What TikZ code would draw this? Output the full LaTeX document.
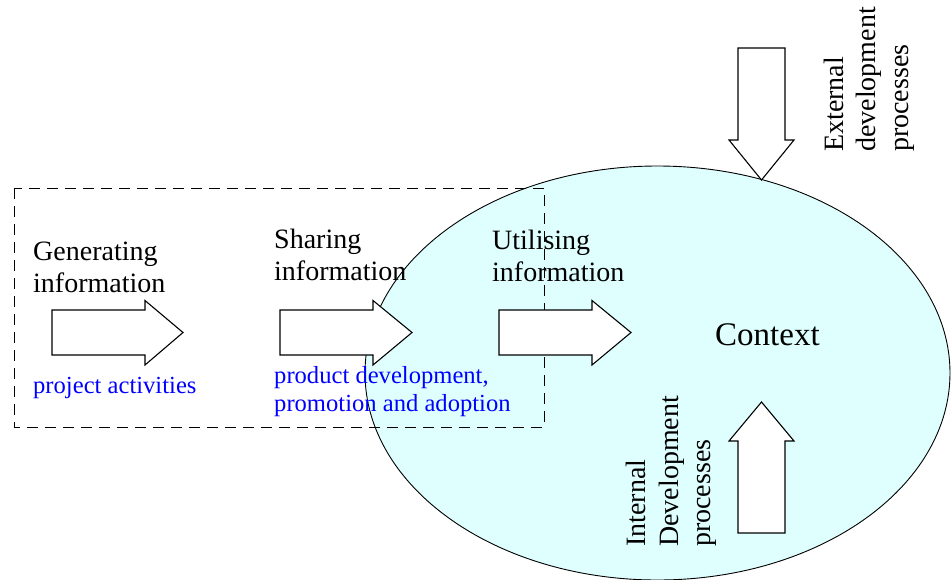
\documentclass[tikz,border=0pt]{standalone}
\usepackage{fontspec}
\setmainfont{Liberation Serif}
\definecolor{ctxfill}{RGB}{223,255,255}
\definecolor{noteblue}{RGB}{0,0,255}
\begin{document}
\begin{tikzpicture}[x=1pt,y=-1pt,
  bigarrow/.style={draw=black,fill=white,line width=1.1pt,line join=miter},
  maintext/.style={inner sep=0pt,anchor=base west,font=\fontsize{28}{32}\selectfont},
  notetext/.style={inner sep=0pt,anchor=base west,text=noteblue,font=\fontsize{24.6}{28}\selectfont},
  vtext/.style={inner sep=0pt,anchor=base west,rotate=90,font=\fontsize{28}{32}\selectfont},
  dashbox/.style={draw=black,line width=0.8pt,dash pattern=on 11pt off 7pt}]
\useasboundingbox (0,0) rectangle (951,579);
% context ellipse
\draw[fill=ctxfill,draw=black,line width=0.9pt] (657.5,373) ellipse (292.5 and 207);
\node[font=\fontsize{33}{38}\selectfont,inner sep=0pt,anchor=base west] (ctx) at (715,345) {Context};
% stage texts
\node[maintext] (gen1) at (33,260) {Generating};
\node[maintext] (gen2) at (33,292) {information};
\node[maintext] (sha1) at (274,248) {Sharing};
\node[maintext] (sha2) at (274,280) {information};
\node[maintext] (uti1) at (492,249) {Utilising};
\node[maintext] (uti2) at (492,281) {information};
\node[notetext] (not1) at (33,393) {project activities};
\node[notetext] (not2) at (274,383) {product development,};
\node[notetext] (not3) at (274,411) {promotion and adoption};
% vertical texts
\node[vtext] (ext1) at (843,152) {External};
\node[vtext] (ext2) at (875,152) {development};
\node[vtext] (ext3) at (908,152) {processes};
\node[vtext] (int1) at (645,547) {Internal};
\node[vtext] (int2) at (678,547) {Development};
\node[vtext] (int3) at (710,547) {processes};
% dashed box
\draw[dashbox] (14,188) rectangle (544,427);
% horizontal arrows
\foreach \xl/\xh/\xt in {52/145/183, 280/373/412, 499/592/631}{
  \draw[bigarrow] (\xl,310) -- (\xh,310) -- (\xh,300.5) -- (\xt,332.5) -- (\xh,365) -- (\xh,355) -- (\xl,355) -- cycle;
}
% down arrow (external)
\draw[bigarrow] (738,48) -- (785,48) -- (785,140) -- (794,140) -- (761.5,180) -- (729,140) -- (738,140) -- cycle;
% up arrow (internal)
\draw[bigarrow] (738,533) -- (785,533) -- (785,441) -- (794,441) -- (761.5,402) -- (729,441) -- (738,441) -- cycle;
\end{tikzpicture}
\end{document}
